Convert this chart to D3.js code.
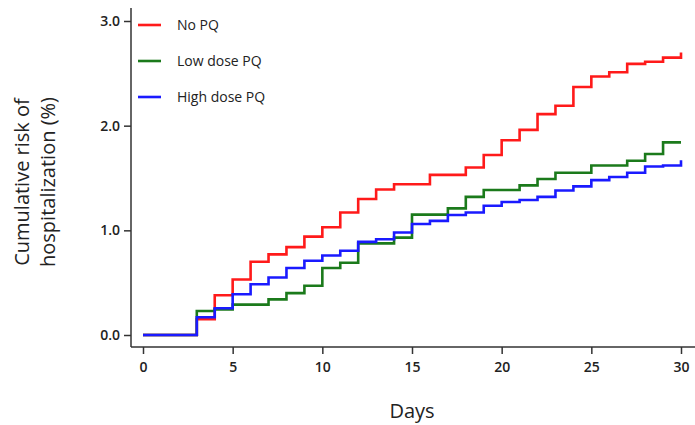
<!DOCTYPE html>
<meta charset="utf-8">
<body style="margin:0;background:#fff">
<style>
text { font-family: "Open Sans", sans-serif; fill: #222; }
.axis path, .axis line { stroke: #333; stroke-width: 1.5px; }
.series { fill: none; stroke-width: 2.6px; }
</style>
<script src="https://d3js.org/d3.v7.min.js"></script>
<script>

var days = [0, 3, 4, 5, 6, 7, 8, 9, 10, 11, 12, 13, 14, 15, 16, 17, 18, 19, 20, 21, 22, 23, 24, 25, 26, 27, 28, 29, 30];

var noPQ = [0, 0.15, 0.38, 0.53, 0.70, 0.77, 0.84, 0.94, 1.03, 1.17, 1.30, 1.39, 1.44, 1.44, 1.53, 1.53,
            1.60, 1.72, 1.86, 1.96, 2.11, 2.19, 2.37, 2.47, 2.51, 2.59, 2.61, 2.65, 2.70];
var lowPQ = [0, 0.23, 0.245, 0.29, 0.29, 0.34, 0.40, 0.47, 0.64, 0.69, 0.875, 0.875, 0.93, 1.15, 1.15, 1.21,
             1.32, 1.385, 1.385, 1.43, 1.49, 1.55, 1.55, 1.62, 1.62, 1.665, 1.73, 1.84, 1.84];
var highPQ = [0, 0.17, 0.255, 0.39, 0.485, 0.55, 0.64, 0.71, 0.76, 0.805, 0.89, 0.915, 0.98, 1.06, 1.09, 1.146,
              1.17, 1.235, 1.27, 1.29, 1.32, 1.38, 1.42, 1.48, 1.51, 1.55, 1.61, 1.62, 1.67];

var seriesNames = ["No PQ", "Low dose PQ", "High dose PQ"];
var seriesColors = ["#ff1a1a", "#1b7a1b", "#1a1aff"];
var xTicks = [0, 5, 10, 15, 20, 25, 30];
var yTicks = [0, 1, 2, 3];

var svg = d3.select("body").append("svg")
    .attr("width", 695)
    .attr("height", 425);

var x = d3.scaleLinear().domain([0, 30]).range([143, 681]);
var y = d3.scaleLinear().domain([0, 3]).range([335, 21]);

// axes drawn as plain lines like the original (ticks point outward)
var xAxis = svg.append("g").attr("class", "axis")
    .attr("transform", "translate(0,347)")
    .call(d3.axisBottom(x).tickValues(xTicks).tickSize(7).tickPadding(8).tickSizeOuter(0));
xAxis.select(".domain").attr("d", "M131,0H695");
xAxis.selectAll("text").style("font-size", "14px").style("font-weight", "600");

var yAxis = svg.append("g").attr("class", "axis")
    .attr("transform", "translate(131,0)")
    .call(d3.axisLeft(y).tickValues(yTicks).tickFormat(d3.format(".1f")).tickSize(7).tickPadding(4).tickSizeOuter(0));
yAxis.select(".domain").attr("d", "M0,8V347");
yAxis.selectAll("text").style("font-size", "14px").style("font-weight", "600");

var line = d3.line()
    .curve(d3.curveStepAfter)
    .x(function(d, i) { return x(days[i]); })
    .y(function(d) { return y(d); });

[noPQ, lowPQ, highPQ].forEach(function(vals, i) {
  svg.append("path")
      .attr("class", "series")
      .attr("stroke", seriesColors[i])
      .attr("d", line(vals));
});

// legend
var legend = svg.append("g");
seriesNames.forEach(function(name, i) {
  var ly = 25 + i * 36;
  legend.append("line")
      .attr("x1", 138).attr("x2", 161)
      .attr("y1", ly).attr("y2", ly)
      .attr("stroke", seriesColors[i])
      .attr("stroke-width", 2.6);
  legend.append("text")
      .attr("x", 177).attr("y", ly + 5)
      .style("font-size", "14px")
      .text(name);
});

// axis titles
svg.append("text")
    .attr("x", 412).attr("y", 418)
    .attr("text-anchor", "middle")
    .style("font-size", "20px")
    .text("Days");

var yt = svg.append("text")
    .attr("transform", "translate(0,182) rotate(-90)")
    .attr("text-anchor", "middle")
    .style("font-size", "20px");
yt.append("tspan").attr("x", 0).attr("y", 29).text("Cumulative risk of");
yt.append("tspan").attr("x", 0).attr("y", 55).text("hospitalization (%)");

</script>
</body>
</html>
